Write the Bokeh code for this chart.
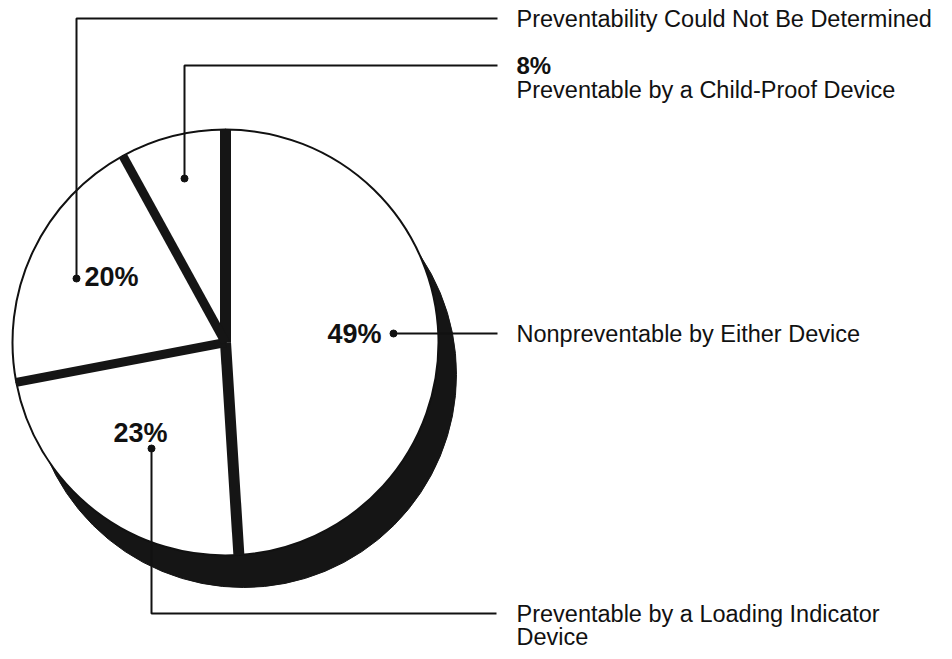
import numpy as np
from bokeh.plotting import figure
from bokeh.models import Range1d, ColumnDataSource
from bokeh.embed import file_html
from bokeh.resources import INLINE
from bokeh.core.properties import value

# ---- data ----
categories = ["Nonpreventable by Either Device",
              "Preventable by a Loading Indicator Device",
              "Preventability Could Not Be Determined",
              "Preventable by a Child-Proof Device"]
percents = [49, 23, 20, 8]
pct_labels = ["49%", "23%", "20%", "8%"]

# ---- layout (reference pixel coords; y converted to data) ----
W, H = 944, 659
PAGE_H = 659


def Y(py):
    return PAGE_H - py


CX, CY, R = 225, 342, 213
SHX, SHY, SHR = 243, 374, 213
FONT = "Liberation Sans"

p = figure(width=W, height=H, output_backend="svg", toolbar_location=None,
           x_range=Range1d(0, W), y_range=Range1d(PAGE_H - H, PAGE_H),
           min_border=0)
p.axis.visible = False
p.grid.visible = False
p.outline_line_color = None
p.background_fill_color = "white"
p.border_fill_color = "white"

# angles: start at 12 o'clock, go clockwise
fr = np.array(percents, dtype=float) / sum(percents)
cum = np.concatenate([[0], np.cumsum(fr)])
starts = np.pi / 2 - 2 * np.pi * cum[:-1]
ends = np.pi / 2 - 2 * np.pi * cum[1:]

# shadow
p.ellipse(x=[SHX], y=[Y(SHY)], width=2 * SHR, height=2 * SHR,
          fill_color="#151515", line_color="#151515")

src = ColumnDataSource(dict(cat=categories, pct=percents, start=starts, end=ends))
p.wedge(x=CX, y=Y(CY), radius=R, start_angle="start", end_angle="end",
        direction="clock", source=src, fill_color="white",
        line_color="#111111", line_width=2)

# separators along slice boundaries
bounds = np.pi / 2 - 2 * np.pi * cum[:-1]
widths = [11 if abs(np.cos(a)) < 0.2 else 9 for a in bounds]
p.segment(x0=[CX] * len(bounds), y0=[Y(CY)] * len(bounds),
          x1=list(CX + R * np.cos(bounds)), y1=list(Y(CY) + R * np.sin(bounds)),
          line_color="#151515", line_width=widths, line_cap="butt")

# leader lines
lead_x = [[393, 497], [151, 151, 496], [76, 76, 497], [184, 184, 497]]
lead_y = [[333, 333], [448, 613, 613], [278, 18, 18], [178, 65, 65]]
p.multi_line(xs=lead_x, ys=[[Y(v) for v in ys] for ys in lead_y],
             line_color="#111111", line_width=2)
dot_x = [xs[0] for xs in lead_x]
dot_y = [Y(ys[0]) for ys in lead_y]
p.scatter(x=dot_x, y=dot_y, size=7, fill_color="#111111", line_color="#111111")

# percentage labels inside the pie
pin_x = [381, 140, 84]
pin_y = [333, 432, 276]
pin_align = ["right", "center", "left"]
p.text(x=pin_x, y=[Y(v) for v in pin_y], text=pct_labels[:3],
       text_align=pin_align, text_baseline="middle",
       text_font=value(FONT), text_font_size="27px", text_font_style="bold",
       text_color="#111111")

# 8% outside
p.text(x=[516], y=[Y(65)], text=[pct_labels[3]], text_align="left",
       text_baseline="middle", text_font=value(FONT), text_font_size="24px",
       text_font_style="bold", text_color="#111111")

# category labels
lab_text = ["Nonpreventable by Either Device",
            "Preventable by a Loading Indicator",
            "Device",
            "Preventability Could Not Be Determined",
            "Preventable by a Child-Proof Device"]
lab_y = [333, 613, 636, 18, 89]
p.text(x=[516] * len(lab_text), y=[Y(v) for v in lab_y], text=lab_text,
       text_align="left", text_baseline="middle", text_font=value(FONT),
       text_font_size="23.5px", text_color="#111111")

open("out.html", "w").write(file_html(p, INLINE))
